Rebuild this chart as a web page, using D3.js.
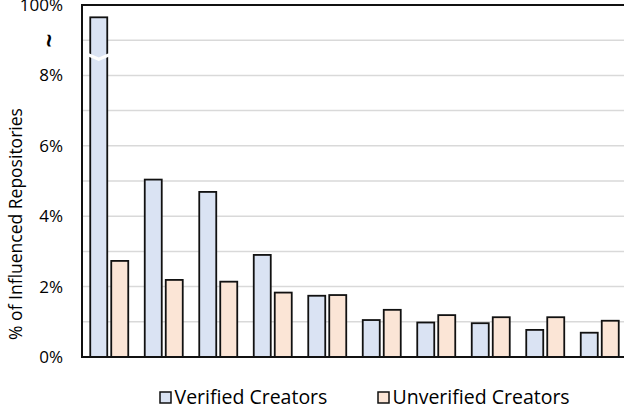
<!DOCTYPE html>
<html>
<head>
<meta charset="utf-8">
<script src="https://cdn.jsdelivr.net/npm/d3@7"></script>
<style>
  html, body { margin: 0; padding: 0; background: #fff; }
  svg { display: block; }
  text { font-family: "Open Sans", Lato, sans-serif; fill: #000; }
</style>
</head>
<body>
<svg id="chart" width="624" height="412"></svg>
<script>
// ---- data ----
const categories = ["1", "2", "3", "4", "5", "6", "7", "8", "9", "10"];
const seriesNames = ["Verified Creators", "Unverified Creators"];
const verified   = [9.65, 5.04, 4.69, 2.90, 1.74, 1.05, 0.98, 0.96, 0.77, 0.69];
const unverified = [2.73, 2.19, 2.14, 1.83, 1.76, 1.34, 1.19, 1.13, 1.13, 1.03];
const tickValues = [0, 2, 4, 6, 8, 9, 10];
const tickLabels = ["0%", "2%", "4%", "6%", "8%", "~", "100%"];
const breakAt = 8.5; // axis break drawn on the first (truncated) bar
const colors = ["#dae3f3", "#fbe5d6"];

// ---- layout ----
const svg = d3.select("#chart");
const mLeft = 82, mRight = 627, mTop = 5, mBottom = 357;

const x0 = d3.scaleBand().domain(categories).range([mLeft, mRight]).paddingInner(0).paddingOuter(0);
const x1 = d3.scaleBand().domain(seriesNames).range([0, x0.bandwidth()])
  .paddingInner(0.1905).paddingOuter(0.393);
const y = d3.scaleLinear().domain([0, 10]).range([mBottom, mTop]);

// gridlines
svg.append("g").selectAll("line")
  .data(d3.range(1, 10))
  .join("line")
  .attr("x1", mLeft).attr("x2", 624)
  .attr("y1", d => y(d)).attr("y2", d => y(d))
  .attr("stroke", "#d9d9d9").attr("stroke-width", 1.5);

// bars
const rows = categories.map((c, i) => ({ c, vals: [verified[i], unverified[i]] }));
const groups = svg.append("g").selectAll("g")
  .data(rows).join("g")
  .attr("transform", d => `translate(${x0(d.c)},0)`);
groups.selectAll("rect")
  .data(d => d.vals.map((v, j) => ({ s: seriesNames[j], v, j })))
  .join("rect")
  .attr("x", d => x1(d.s))
  .attr("width", x1.bandwidth())
  .attr("y", d => y(d.v))
  .attr("height", d => y(0) - y(d.v))
  .attr("fill", d => colors[d.j])
  .attr("stroke", "#111").attr("stroke-width", 1.8);

// break marker on the first verified bar
{
  const bx = x0(categories[0]) + x1(seriesNames[0]);
  const bw = x1.bandwidth();
  const by = y(breakAt);
  svg.append("path")
    .attr("d", `M${bx - 2},${by - 3} L${bx + bw / 2},${by + 1.5} L${bx + bw + 2},${by - 3}`)
    .attr("fill", "none").attr("stroke", "#fff").attr("stroke-width", 3.2);
}

// frame: top, left, bottom
svg.append("path")
  .attr("d", `M624,${mTop} H${mLeft} V${mBottom} H624`)
  .attr("fill", "none").attr("stroke", "#111").attr("stroke-width", 2);

// y axis
const yAxis = d3.axisLeft(y).tickValues(tickValues)
  .tickFormat((d, i) => tickLabels[i]).tickSize(0).tickPadding(19);
const ag = svg.append("g").attr("transform", `translate(${mLeft},0)`).call(yAxis);
ag.select(".domain").remove();
ag.selectAll("text")
  .style("font-family", "'Open Sans', sans-serif")
  .style("font-size", "17px")
  .attr("fill", "#000");
ag.selectAll(".tick").filter(d => d === 9).select("text")
  .attr("text-anchor", "middle")
  .attr("x", -32).attr("dy", 0)
  .attr("transform", "rotate(90,-32,0)")
  .attr("dominant-baseline", "central")
  .style("font-size", "24px")
  .style("font-weight", "bold");

// y axis title
svg.append("text")
  .attr("transform", `translate(22,${(105 + 343) / 2}) rotate(-90)`)
  .attr("text-anchor", "middle")
  .style("font-size", "17.5px")
  .text("% of Influenced Repositories");

// legend
const legendX = [160, 378];
const lg = svg.append("g").selectAll("g")
  .data(seriesNames).join("g")
  .attr("transform", (d, i) => `translate(${legendX[i]},392)`);
lg.append("rect")
  .attr("width", 11).attr("height", 11)
  .attr("fill", (d, i) => colors[i])
  .attr("stroke", "#111").attr("stroke-width", 1.5);
lg.append("text")
  .attr("x", 14.5).attr("y", 12)
  .style("font-size", "19.5px")
  .text(d => d);
</script>
</body>
</html>
